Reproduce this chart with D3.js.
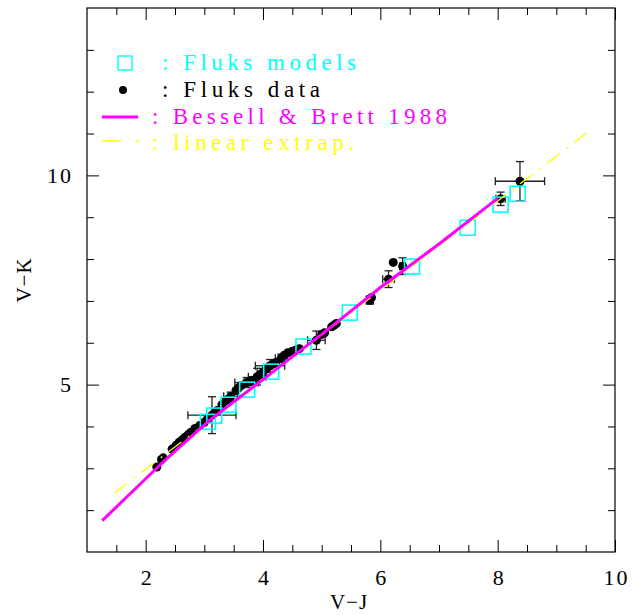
<!DOCTYPE html>
<html>
<head>
<meta charset="utf-8" />
<script src="https://d3js.org/d3.v7.min.js"></script>
<style>
  body { margin: 0; background: #fff; }
  svg text { font-family: "Liberation Serif", "DejaVu Serif", serif; }
  .tick text { font-size: 22px; fill: #000; letter-spacing: 2px; }
</style>
</head>
<body>
<svg width="632" height="615"></svg>
<script>
// ---- data ----
// Bessell & Brett 1988 relation (V-J, V-K)
const bbVJ = [1.26, 2.0, 2.35, 3.08, 4.0, 4.5, 5.0, 6.0, 7.0, 8.0];
const bbVK = [1.75, 2.75, 3.22, 4.14, 5.12, 5.67, 6.2, 7.32, 8.36, 9.45];

// linear extrapolation (two end points)
const linVJ = [1.47, 9.6];
const linVK = [2.41, 11.1];

// Fluks models
const modVJ = [3.06, 3.17, 3.41, 3.73, 4.14, 4.69, 5.48, 6.54, 7.49, 8.05, 8.34];
const modVK = [4.11, 4.26, 4.52, 4.88, 5.31, 5.91, 6.72, 7.82, 8.75, 9.30, 9.56];

// Fluks data with errors
const datVJ = [2.19, 2.27, 2.30, 2.45, 2.52, 2.57, 2.62, 2.67, 2.72, 2.77, 2.84, 2.92, 3.00, 3.05, 3.13, 3.17, 3.22, 3.30, 3.37, 3.42, 3.45, 3.54, 3.58, 3.63, 3.72, 3.77, 3.82, 3.90, 3.95, 4.00, 4.06, 4.12, 4.17, 4.22, 4.31, 4.36, 4.42, 4.50, 4.56, 4.62, 4.91, 5.00, 5.05, 5.17, 5.21, 5.25, 5.82, 5.85, 6.14, 6.22, 6.38, 8.05, 8.38];
const datVK = [3.03, 3.21, 3.25, 3.46, 3.55, 3.62, 3.68, 3.74, 3.80, 3.86, 3.95, 4.02, 4.10, 4.17, 4.27, 4.32, 4.38, 4.52, 4.62, 4.66, 4.72, 4.86, 4.92, 4.98, 5.05, 5.06, 5.10, 5.19, 5.24, 5.30, 5.38, 5.45, 5.49, 5.53, 5.63, 5.70, 5.76, 5.80, 5.83, 5.86, 6.06, 6.20, 6.24, 6.38, 6.42, 6.46, 7.02, 7.08, 7.52, 7.92, 7.83, 9.44, 9.86];
const errVJ = [0, 0, 0, 0, 0, 0, 0, 0, 0, 0, 0, 0, 0, 0, 0.41, 0, 0, 0, 0, 0, 0.12, 0, 0, 0, 0.2, 0, 0, 0.15, 0, 0, 0, 0.25, 0, 0, 0.1, 0, 0, 0, 0, 0, 0.15, 0, 0, 0, 0, 0, 0.06, 0, 0.1, 0, 0.05, 0.08, 0.42];
const errVK = [0, 0, 0, 0, 0, 0, 0, 0, 0, 0, 0, 0, 0, 0, 0.44, 0, 0, 0, 0, 0, 0.1, 0, 0, 0, 0.12, 0, 0, 0.2, 0, 0, 0, 0.15, 0, 0, 0.1, 0, 0, 0, 0, 0, 0.22, 0, 0, 0, 0, 0, 0.1, 0, 0.2, 0, 0.2, 0.16, 0.47];

const xTicks = [2, 4, 6, 8, 10];
const yTicks = [5, 10];

const legendLabels = [": Fluks models", ": Fluks data", ": Bessell & Brett 1988", ": linear extrap."];

// ---- setup ----
const svg = d3.select("svg");
const x = d3.scaleLinear().domain([1, 10]).range([87, 615]);
const y = d3.scaleLinear().domain([1, 14]).range([552, 8]);

const CYAN = "#00ffff", MAGENTA = "#ff00ff", YELLOW = "#ffff00";

// axes: ticks inward on all four sides
function axisGroup(axis, tx, ty) {
  const g = svg.append("g").attr("transform", `translate(${tx},${ty})`).call(axis);
  g.select(".domain").remove();
  g.selectAll(".tick line").attr("stroke", "#000").attr("stroke-width", 1);
  return g;
}
const xMinor = d3.range(1.5, 10, 0.5).filter((v) => v % 2 !== 0);
const yMinor = d3.range(2, 14, 1).filter((v) => v % 5 !== 0);

const bottom = axisGroup(d3.axisBottom(x).tickValues(xTicks).tickSize(-12).tickFormat(d3.format("d")), 0, y(1));
axisGroup(d3.axisBottom(x).tickValues(xMinor).tickSize(-7).tickFormat(""), 0, y(1));
axisGroup(d3.axisTop(x).tickValues(xTicks).tickSize(-12).tickFormat(""), 0, y(14));
axisGroup(d3.axisTop(x).tickValues(xMinor).tickSize(-7).tickFormat(""), 0, y(14));
const left = axisGroup(d3.axisLeft(y).tickValues(yTicks).tickSize(-12).tickPadding(14).tickFormat(d3.format("d")), x(1), 0);
axisGroup(d3.axisLeft(y).tickValues(yMinor).tickSize(-7).tickFormat(""), x(1), 0);
axisGroup(d3.axisRight(y).tickValues(yTicks).tickSize(-12).tickFormat(""), x(10), 0);
axisGroup(d3.axisRight(y).tickValues(yMinor).tickSize(-7).tickFormat(""), x(10), 0);
bottom.selectAll(".tick text").attr("dy", null).attr("y", 33).attr("dx", 1);

svg.append("rect")
  .attr("x", x(1)).attr("y", y(14))
  .attr("width", x(10) - x(1)).attr("height", y(1) - y(14))
  .attr("fill", "none").attr("stroke", "#000").attr("stroke-width", 1.2);

svg.append("text").attr("x", (x(1) + x(10)) / 2 - 2).attr("y", 609)
  .attr("text-anchor", "middle").attr("font-size", 21).attr("letter-spacing", 1).text("V\u2212J");
svg.append("text").attr("transform", `translate(31,${y(7.5)}) rotate(-90)`)
  .attr("text-anchor", "middle").attr("font-size", 21).attr("letter-spacing", 1).text("V\u2212K");

// ---- Fluks data: error bars + dots ----
const dat = datVJ.map((v, i) => ({ vj: v, vk: datVK[i], ej: errVJ[i], ek: errVK[i] }));
const errG = svg.append("g").attr("stroke", "#222").attr("stroke-width", 1.3);
dat.filter((d) => d.ej > 0 || d.ek > 0).forEach((d) => {
  const cx = x(d.vj), cy = y(d.vk), cap = 4;
  if (d.ej > 0) {
    errG.append("line").attr("x1", x(d.vj - d.ej)).attr("x2", x(d.vj + d.ej)).attr("y1", cy).attr("y2", cy);
    [d.vj - d.ej, d.vj + d.ej].forEach((v) =>
      errG.append("line").attr("x1", x(v)).attr("x2", x(v)).attr("y1", cy - cap).attr("y2", cy + cap));
  }
  if (d.ek > 0) {
    errG.append("line").attr("x1", cx).attr("x2", cx).attr("y1", y(d.vk - d.ek)).attr("y2", y(d.vk + d.ek));
    [d.vk - d.ek, d.vk + d.ek].forEach((v) =>
      errG.append("line").attr("x1", cx - cap).attr("x2", cx + cap).attr("y1", y(v)).attr("y2", y(v)));
  }
});
svg.append("g").selectAll("circle").data(dat).enter().append("circle")
  .attr("cx", (d) => x(d.vj)).attr("cy", (d) => y(d.vk)).attr("r", 4.5).attr("fill", "#000");

// ---- Fluks models: open squares ----
const sq = 15;
svg.append("g").selectAll("rect").data(modVJ).enter().append("rect")
  .attr("x", (d) => x(d) - sq / 2).attr("y", (d, i) => y(modVK[i]) - sq / 2)
  .attr("width", sq).attr("height", sq)
  .attr("fill", "none").attr("stroke", CYAN).attr("stroke-width", 1.6);

// ---- lines ----
const line = d3.line().x((d) => x(d[0])).y((d) => y(d[1]));
svg.append("path").datum(linVJ.map((v, i) => [v, linVK[i]]))
  .attr("d", line).attr("fill", "none").attr("stroke", YELLOW).attr("stroke-width", 1.3)
  .attr("stroke-dasharray", "16,8,2,8");
svg.append("path").datum(bbVJ.map((v, i) => [v, bbVK[i]]))
  .attr("d", line).attr("fill", "none").attr("stroke", MAGENTA).attr("stroke-width", 3);

// ---- legend ----
const lg = svg.append("g");
lg.append("rect").attr("x", 118).attr("y", 56).attr("width", 14).attr("height", 14)
  .attr("fill", "none").attr("stroke", CYAN).attr("stroke-width", 1.4);
lg.append("circle").attr("cx", 123).attr("cy", 90).attr("r", 4).attr("fill", "#000");
lg.append("line").attr("x1", 102).attr("x2", 138).attr("y1", 117).attr("y2", 117)
  .attr("stroke", MAGENTA).attr("stroke-width", 3);
lg.append("line").attr("x1", 102).attr("x2", 140).attr("y1", 141).attr("y2", 141)
  .attr("stroke", YELLOW).attr("stroke-width", 1.3).attr("stroke-dasharray", "19,15,3,20");

const legendText = [
  { x: 162, y: 70, w: 194, c: CYAN },
  { x: 162, y: 97, w: 158, c: "#000" },
  { x: 152, y: 124, w: 295, c: MAGENTA },
  { x: 152, y: 150, w: 202, c: YELLOW },
];
legendText.forEach((t, i) => {
  lg.append("text").attr("x", t.x).attr("y", t.y).attr("font-size", 23)
    .attr("fill", t.c).attr("textLength", t.w).attr("lengthAdjust", "spacing")
    .text(legendLabels[i]);
});
</script>
</body>
</html>
